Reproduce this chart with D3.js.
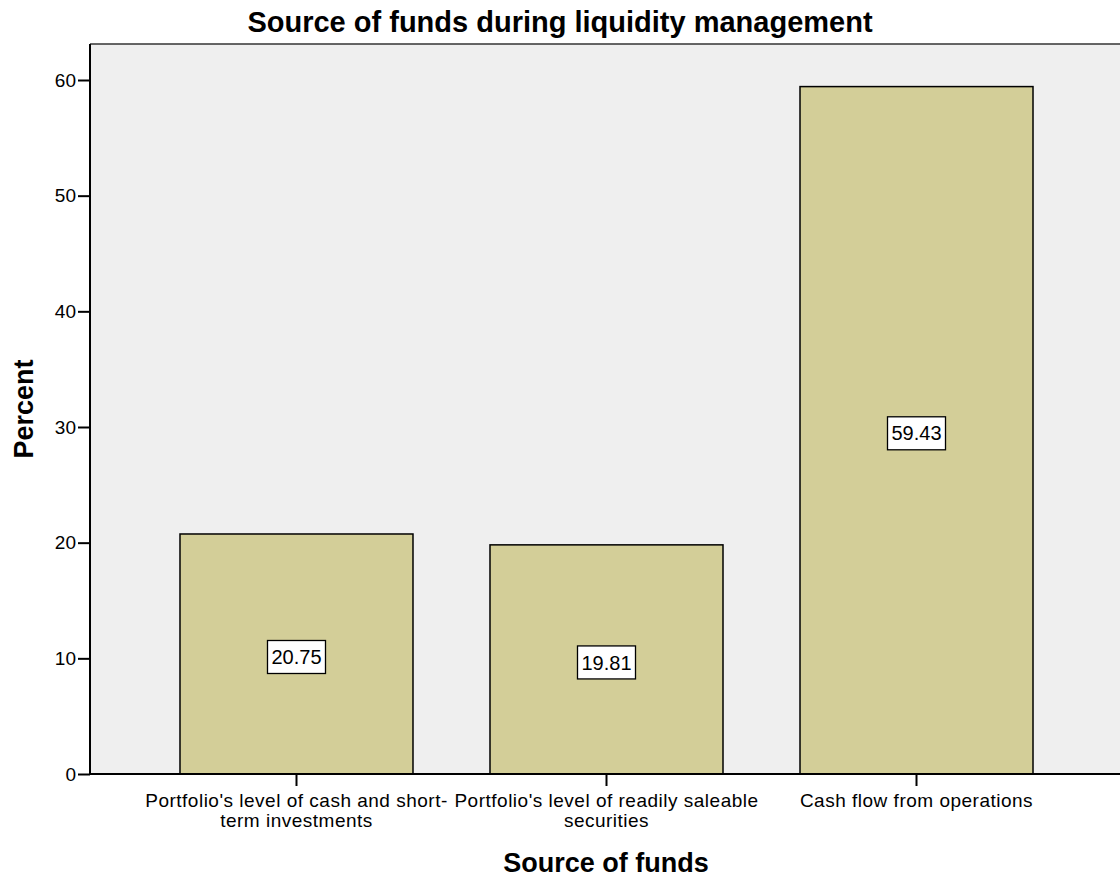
<!DOCTYPE html>
<html>
<head>
<meta charset="utf-8">
<script src="https://cdn.jsdelivr.net/npm/d3@7"></script>
<style>
  html, body { margin: 0; padding: 0; background: #fff; }
  svg { display: block; font-family: "Liberation Sans", Arial, sans-serif; }
</style>
</head>
<body>
<svg id="chart" width="1120" height="877"></svg>
<script>
// Source of funds used during liquidity management (percent of respondents)
const categories = [
  ["Portfolio's level of cash and short-", "term investments"],
  ["Portfolio's level of readily saleable", "securities"],
  ["Cash flow  from operations"]
];
const percents = [20.75, 19.81, 59.43];
const yTicks = [0, 10, 20, 30, 40, 50, 60];

const W = 1120, H = 877;
const margin = { top: 44, bottom: 103, left: 90 };
const svg = d3.select("#chart");

const x = d3.scaleBand()
  .domain(d3.range(categories.length))
  .range([margin.left, 1123])
  .paddingInner(0.2484)
  .paddingOuter(0.2903);

const y = d3.scaleLinear()
  .domain([0, 60])
  .range([H - margin.bottom, 80]);

// plot background
svg.append("rect")
  .attr("x", margin.left).attr("y", margin.top)
  .attr("width", W - margin.left).attr("height", y(0) - margin.top)
  .attr("fill", "#efefef");

// top frame line
svg.append("line")
  .attr("x1", margin.left).attr("x2", W)
  .attr("y1", margin.top).attr("y2", margin.top)
  .attr("stroke", "#333").attr("stroke-width", 1.5);

// bars
svg.selectAll("rect.bar").data(percents).join("rect")
  .attr("class", "bar")
  .attr("x", (d, i) => x(i))
  .attr("y", d => y(d))
  .attr("width", x.bandwidth())
  .attr("height", d => y(0) - y(d))
  .attr("fill", "#d3ce98")
  .attr("stroke", "#000").attr("stroke-width", 1.5);

// value labels in boxes
const lbl = svg.selectAll("g.vlabel").data(percents).join("g")
  .attr("class", "vlabel")
  .attr("transform", (d, i) => `translate(${x(i) + x.bandwidth() / 2},${y(d / 2) + 3})`);
lbl.append("rect")
  .attr("x", -29).attr("y", -16.5).attr("width", 58).attr("height", 33)
  .attr("fill", "#fff").attr("stroke", "#000").attr("stroke-width", 1.3);
lbl.append("text")
  .attr("text-anchor", "middle").attr("dy", "0.36em")
  .attr("font-size", 20).attr("fill", "#000")
  .text(d => d.toFixed(2));

// y axis
const yAxis = d3.axisLeft(y).tickValues(yTicks).tickSize(12).tickPadding(2).tickFormat(d3.format("d"));
const gy = svg.append("g")
  .attr("transform", `translate(${margin.left},0)`)
  .call(yAxis);
gy.select(".domain").attr("d", `M0,${margin.top}V${y(0)}`).attr("stroke-width", 2);
gy.selectAll(".tick line").attr("stroke-width", 2);
gy.selectAll(".tick text").attr("font-size", 19).attr("font-family", "Liberation Sans, Arial, sans-serif").attr("fill", "#000");

// x axis
const xAxis = d3.axisBottom(x).tickSize(12).tickFormat("");
const gx = svg.append("g")
  .attr("transform", `translate(0,${y(0)})`)
  .call(xAxis);
gx.select(".domain").attr("d", `M${margin.left},0H${W}`).attr("stroke-width", 2);
gx.selectAll(".tick line").attr("stroke-width", 2);

// category labels
const cl = svg.selectAll("text.cat").data(categories).join("text")
  .attr("class", "cat")
  .attr("text-anchor", "middle")
  .attr("font-size", 19)
  .attr("letter-spacing", 0.5)
  .attr("fill", "#000")
  .attr("transform", (d, i) => `translate(${x(i) + x.bandwidth() / 2},${y(0) + 33})`);
cl.selectAll("tspan").data(d => d).join("tspan")
  .attr("x", 0)
  .attr("dy", (d, i) => i === 0 ? 0 : 19.5)
  .text(d => d);

// title
svg.append("text")
  .attr("x", 560).attr("y", 32)
  .attr("text-anchor", "middle")
  .attr("font-size", 29).attr("font-weight", "bold")
  .text("Source of funds during liquidity management");

// axis titles
svg.append("text")
  .attr("x", 606).attr("y", 872)
  .attr("text-anchor", "middle")
  .attr("font-size", 27).attr("font-weight", "bold")
  .text("Source of funds");

svg.append("text")
  .attr("transform", `translate(33,409) rotate(-90)`)
  .attr("text-anchor", "middle")
  .attr("font-size", 27).attr("font-weight", "bold")
  .text("Percent");
</script>
</body>
</html>
